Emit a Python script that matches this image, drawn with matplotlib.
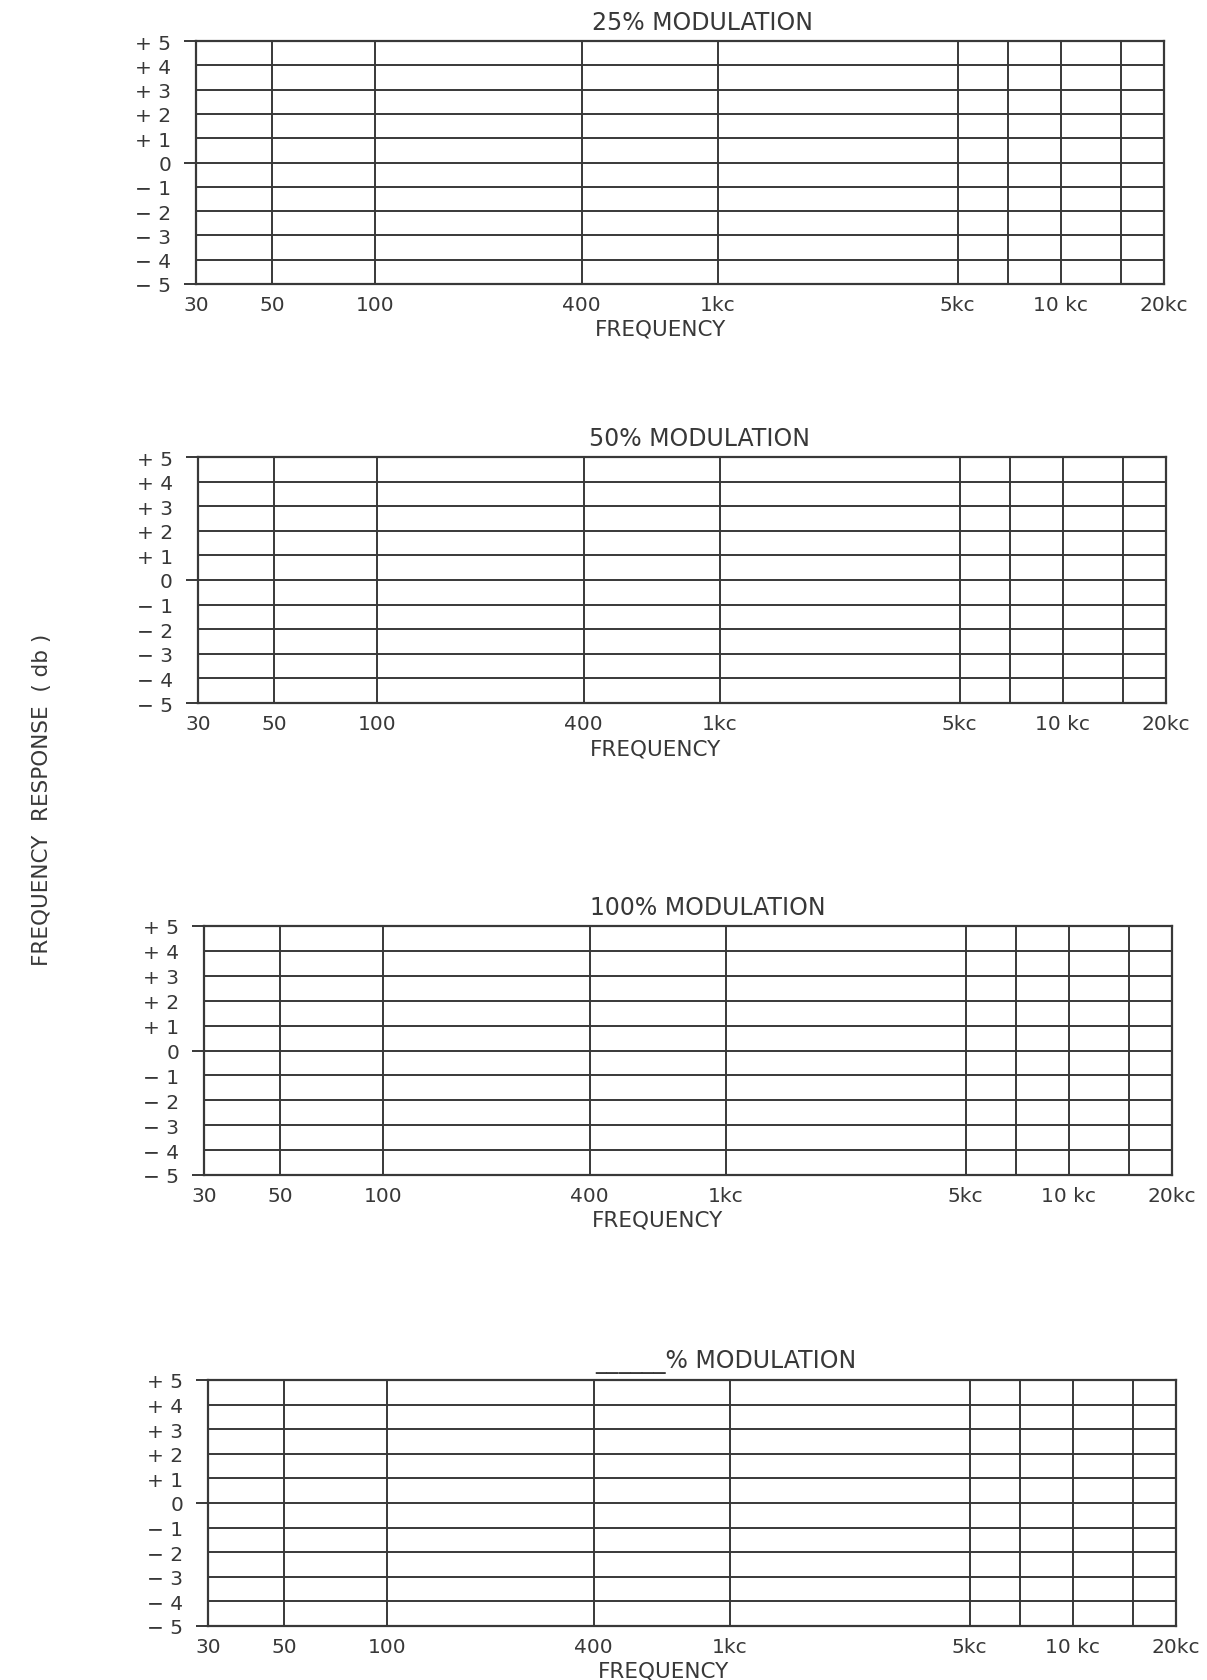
import numpy as np
import matplotlib
matplotlib.use('Agg')
import matplotlib.pyplot as plt
from matplotlib.ticker import NullFormatter

# blank frequency response form - four panels, no curves drawn
titles = ['25% MODULATION', '50% MODULATION', '100% MODULATION', '______% MODULATION']
grid_freqs = [30, 50, 100, 400, 1000, 5000, 7000, 10000, 15000, 20000]
label_freqs = [30, 50, 100, 400, 1000, 5000, 10000, 20000]
freq_labels = ['30', '50', '100', '400', '1kc', '5kc', '10 kc', '20kc']
db_levels = [5, 4, 3, 2, 1, 0, -1, -2, -3, -4, -5]
db_labels = ['+ 5', '+ 4', '+ 3', '+ 2', '+ 1', '0',
             '\u2212 1', '\u2212 2', '\u2212 3', '\u2212 4', '\u2212 5']

W, H = 1207, 1681
# panel boxes in pixels: left, top, right, bottom
boxes = [(196, 42, 1164, 285),
         (198, 458, 1166, 704),
         (204, 927, 1172, 1176),
         (208, 1381, 1176, 1627)]
title_x = [0.523, 0.518, 0.52, 0.535]
xlabel_x = [0.48, 0.473, 0.469, 0.471]

ink = '#383838'
plt.rcParams['font.family'] = ['DejaVu Sans']

fig = plt.figure(figsize=(W / 100, H / 100), dpi=100)
fig.patch.set_facecolor('white')

for i in range(4):
    l, t, r, b = boxes[i]
    ax = fig.add_axes([l / W, 1 - b / H, (r - l) / W, (b - t) / H])
    ax.set_xscale('log')
    ax.set_xlim(grid_freqs[0], grid_freqs[-1])
    ax.set_ylim(-5, 5)

    # grid lines
    for f in grid_freqs[1:-1]:
        ax.axvline(f, color=ink, lw=1.4)
    for d in db_levels[1:-1]:
        ax.axhline(d, color=ink, lw=1.4)
    for s in ax.spines.values():
        s.set_color(ink)
        s.set_linewidth(1.6)

    ax.set_xticks(label_freqs, freq_labels)
    ax.xaxis.set_minor_formatter(NullFormatter())
    ax.set_xticks([], minor=True)
    ax.set_yticks(db_levels, db_labels)
    # top, zero and bottom lines stick out a little to the left
    ax.yaxis.remove_overlapping_locs = False
    ax.set_yticks([-5, 0, 5], minor=True)
    ax.tick_params(axis='x', which='major', length=0, pad=8, labelsize=14.5, labelcolor=ink)
    ax.tick_params(axis='y', which='major', length=0, pad=18, labelsize=14.5, labelcolor=ink)
    ax.tick_params(axis='y', which='minor', length=9, width=1.4, color=ink)

    ax.annotate(titles[i], xy=(title_x[i], 1), xycoords='axes fraction',
                xytext=(0, 7), textcoords='offset pixels',
                ha='center', va='bottom', fontsize=17, color=ink)
    ax.annotate('FREQUENCY', xy=(xlabel_x[i], 0), xycoords='axes fraction',
                xytext=(0, -45), textcoords='offset pixels',
                ha='center', va='center', fontsize=15.5, color=ink)

fig.text(42 / W, 1 - 800 / H, 'FREQUENCY  RESPONSE  ( db )', rotation=90,
         ha='center', va='center', fontsize=15.5, color=ink)

fig.savefig('out.png', dpi=100, facecolor='white')
